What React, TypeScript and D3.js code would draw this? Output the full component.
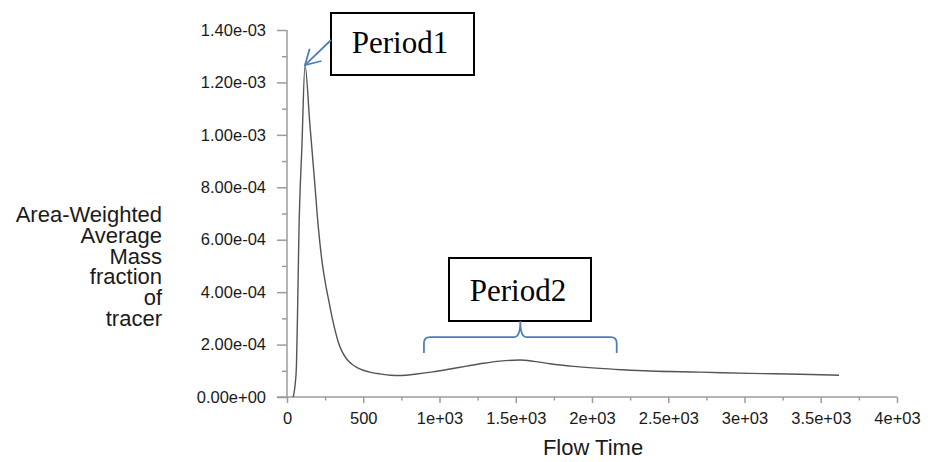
import React, { useEffect, useRef } from 'react';
import * as d3 from 'd3';

// Flow time and area-weighted average mass fraction of tracer
const flowTime = [
  41, 52, 62, 70, 78, 98, 118, 150, 180, 205, 228, 250, 271, 292, 315, 337, 359,
  390, 424, 460, 500, 550, 610, 680, 741, 850, 957, 1070, 1178, 1290, 1397,
  1528, 1620, 1725, 1880, 2052, 2200, 2380, 2708, 3036, 3364, 3620,
];
const massFraction = [
  0, 4e-5, 1.2e-4, 3.5e-4, 6.2e-4, 9.6e-4, 1.266e-3, 1.04e-3, 8.3e-4, 6.5e-4,
  5.25e-4, 4.4e-4, 3.76e-4, 3.14e-4, 2.55e-4, 2.08e-4, 1.76e-4, 1.46e-4, 1.26e-4,
  1.12e-4, 1.02e-4, 9.4e-5, 8.8e-5, 8.3e-5, 8.2e-5, 8.8e-5, 9.6e-5, 1.07e-4,
  1.18e-4, 1.29e-4, 1.37e-4, 1.41e-4, 1.36e-4, 1.27e-4, 1.17e-4, 1.09e-4,
  1.04e-4, 9.9e-5, 9.5e-5, 9.0e-5, 8.7e-5, 8.3e-5,
];

const xTicks = [0, 500, 1000, 1500, 2000, 2500, 3000, 3500, 4000];
const xTickLabels = ['0', '500', '1e+03', '1.5e+03', '2e+03', '2.5e+03', '3e+03', '3.5e+03', '4e+03'];
const yTicks = [0, 2e-4, 4e-4, 6e-4, 8e-4, 1e-3, 1.2e-3, 1.4e-3];
const yTickLabels = ['0.00e+00', '2.00e-04', '4.00e-04', '6.00e-04', '8.00e-04', '1.00e-03', '1.20e-03', '1.40e-03'];
const xMinor = [250, 750, 1250, 1750, 2250, 2750, 3250, 3750];
const yMinor = [1e-4, 3e-4, 5e-4, 7e-4, 9e-4, 1.1e-3, 1.3e-3];

const yTitle = ['Area-Weighted', 'Average', 'Mass', 'fraction', 'of', 'tracer'];
const xTitle = 'Flow Time';
const period2Range = [898, 2162];

const W = 932;
const H = 462;
const axisColor = '#9c9c9c';
const blue = '#4a7ebb';
const sans = '"Liberation Sans", Arial, sans-serif';
const serif = '"Liberation Serif", "Times New Roman", serif';

const App = () => {
  const xAxisRef = useRef<SVGGElement>(null);
  const yAxisRef = useRef<SVGGElement>(null);

  const x = d3.scaleLinear().domain([0, 4000]).range([287, 897]);
  const y = d3.scaleLinear().domain([0, 1.4e-3]).range([397, 30]);

  const line = d3
    .line<number>()
    .x((d, i) => x(flowTime[i]))
    .y(d => y(d))
    .curve(d3.curveMonotoneX);

  useEffect(() => {
    const style = (g: any) => {
      g.select('.domain').remove();
      g.selectAll('line').attr('stroke', axisColor).attr('stroke-width', 1.5);
      g.selectAll('text')
        .attr('font-size', 16.5)
        .attr('font-family', sans)
        .attr('fill', '#1a1a1a');
    };

    const gx = d3.select(xAxisRef.current);
    gx.selectAll('*').remove();
    gx.append('g')
      .call(
        d3.axisBottom(x).tickValues(xTicks).tickSize(6).tickPadding(9)
          .tickFormat((d, i) => xTickLabels[i])
      )
      .call(style);
    gx.append('g')
      .call(d3.axisBottom(x).tickValues(xMinor).tickSize(3.5).tickFormat(() => ''))
      .call(style);

    const gy = d3.select(yAxisRef.current);
    gy.selectAll('*').remove();
    gy.append('g')
      .call(
        d3.axisLeft(y).tickValues(yTicks).tickSize(10).tickPadding(11)
          .tickFormat((d, i) => yTickLabels[i])
      )
      .call(style);
    gy.append('g')
      .call(d3.axisLeft(y).tickValues(yMinor).tickSize(5).tickFormat(() => ''))
      .call(style);
  }, []);

  // arrow to the first peak
  const peakIdx = d3.maxIndex(massFraction);
  const tipX = x(flowTime[peakIdx]);
  const tipY = y(massFraction[peakIdx]);
  const startX = 331;
  const startY = 40;
  const ang = Math.atan2(startY - tipY, startX - tipX);
  const barb = 17;
  const spread = Math.PI / 6;
  const b1 = [tipX + barb * Math.cos(ang - spread), tipY + barb * Math.sin(ang - spread)];
  const b2 = [tipX + barb * Math.cos(ang + spread), tipY + barb * Math.sin(ang + spread)];

  // brace under the Period2 box
  const bl = x(period2Range[0]);
  const br = x(period2Range[1]);
  const bm = (bl + br) / 2;
  const braceTop = 337;
  const braceBot = 353;
  const r = 6;
  const brace = `M${bl},${braceBot} L${bl},${braceTop + r} Q${bl},${braceTop} ${bl + r},${braceTop}
    L${bm - 6},${braceTop} Q${bm},${braceTop} ${bm},${braceTop - 16}
    Q${bm},${braceTop} ${bm + 6},${braceTop} L${br - r},${braceTop}
    Q${br},${braceTop} ${br},${braceTop + r} L${br},${braceBot}`;

  return (
    <svg
      width={W}
      height={H}
      style={{ position: 'absolute', left: 0, top: 0, background: '#fff' }}
    >
      {/* axis lines */}
      <line x1={x(0)} x2={x(0)} y1={y(1.4e-3)} y2={y(0)} stroke={axisColor} strokeWidth={1.5} />
      <line x1={x(0) - 10} x2={x(4000)} y1={y(0)} y2={y(0)} stroke={axisColor} strokeWidth={1.5} />
      <g ref={xAxisRef} transform={`translate(0,${y(0)})`} />
      <g ref={yAxisRef} transform={`translate(${x(0)},0)`} />

      <path d={line(massFraction) || ''} fill="none" stroke="#555" strokeWidth={1.4} />

      {/* axis titles */}
      <text x={593} y={455} textAnchor="middle" fontFamily={sans} fontSize={22} fill="#1a1a1a">
        {xTitle}
      </text>
      <text textAnchor="end" fontFamily={sans} fontSize={22} fill="#1a1a1a">
        {yTitle.map((t, i) => (
          <tspan key={t} x={162} y={222 + i * 20.8}>
            {t}
          </tspan>
        ))}
      </text>

      {/* Period1 annotation */}
      <rect x={331} y={13} width={143} height={62} fill="#fff" stroke="#000" strokeWidth={2} />
      <text x={400} y={53} textAnchor="middle" fontFamily={serif} fontSize={31} fill="#000">
        Period1
      </text>
      <line x1={startX} y1={startY} x2={tipX} y2={tipY} stroke={blue} strokeWidth={1.75} />
      <polyline
        points={`${b1[0]},${b1[1]} ${tipX},${tipY} ${b2[0]},${b2[1]}`}
        fill="none"
        stroke={blue}
        strokeWidth={1.75}
      />

      {/* Period2 annotation */}
      <rect x={449} y={258} width={142} height={63} fill="#fff" stroke="#000" strokeWidth={2} />
      <text x={518} y={301} textAnchor="middle" fontFamily={serif} fontSize={31} fill="#000">
        Period2
      </text>
      <path d={brace} fill="none" stroke={blue} strokeWidth={1.75} />
    </svg>
  );
};

export default App;
